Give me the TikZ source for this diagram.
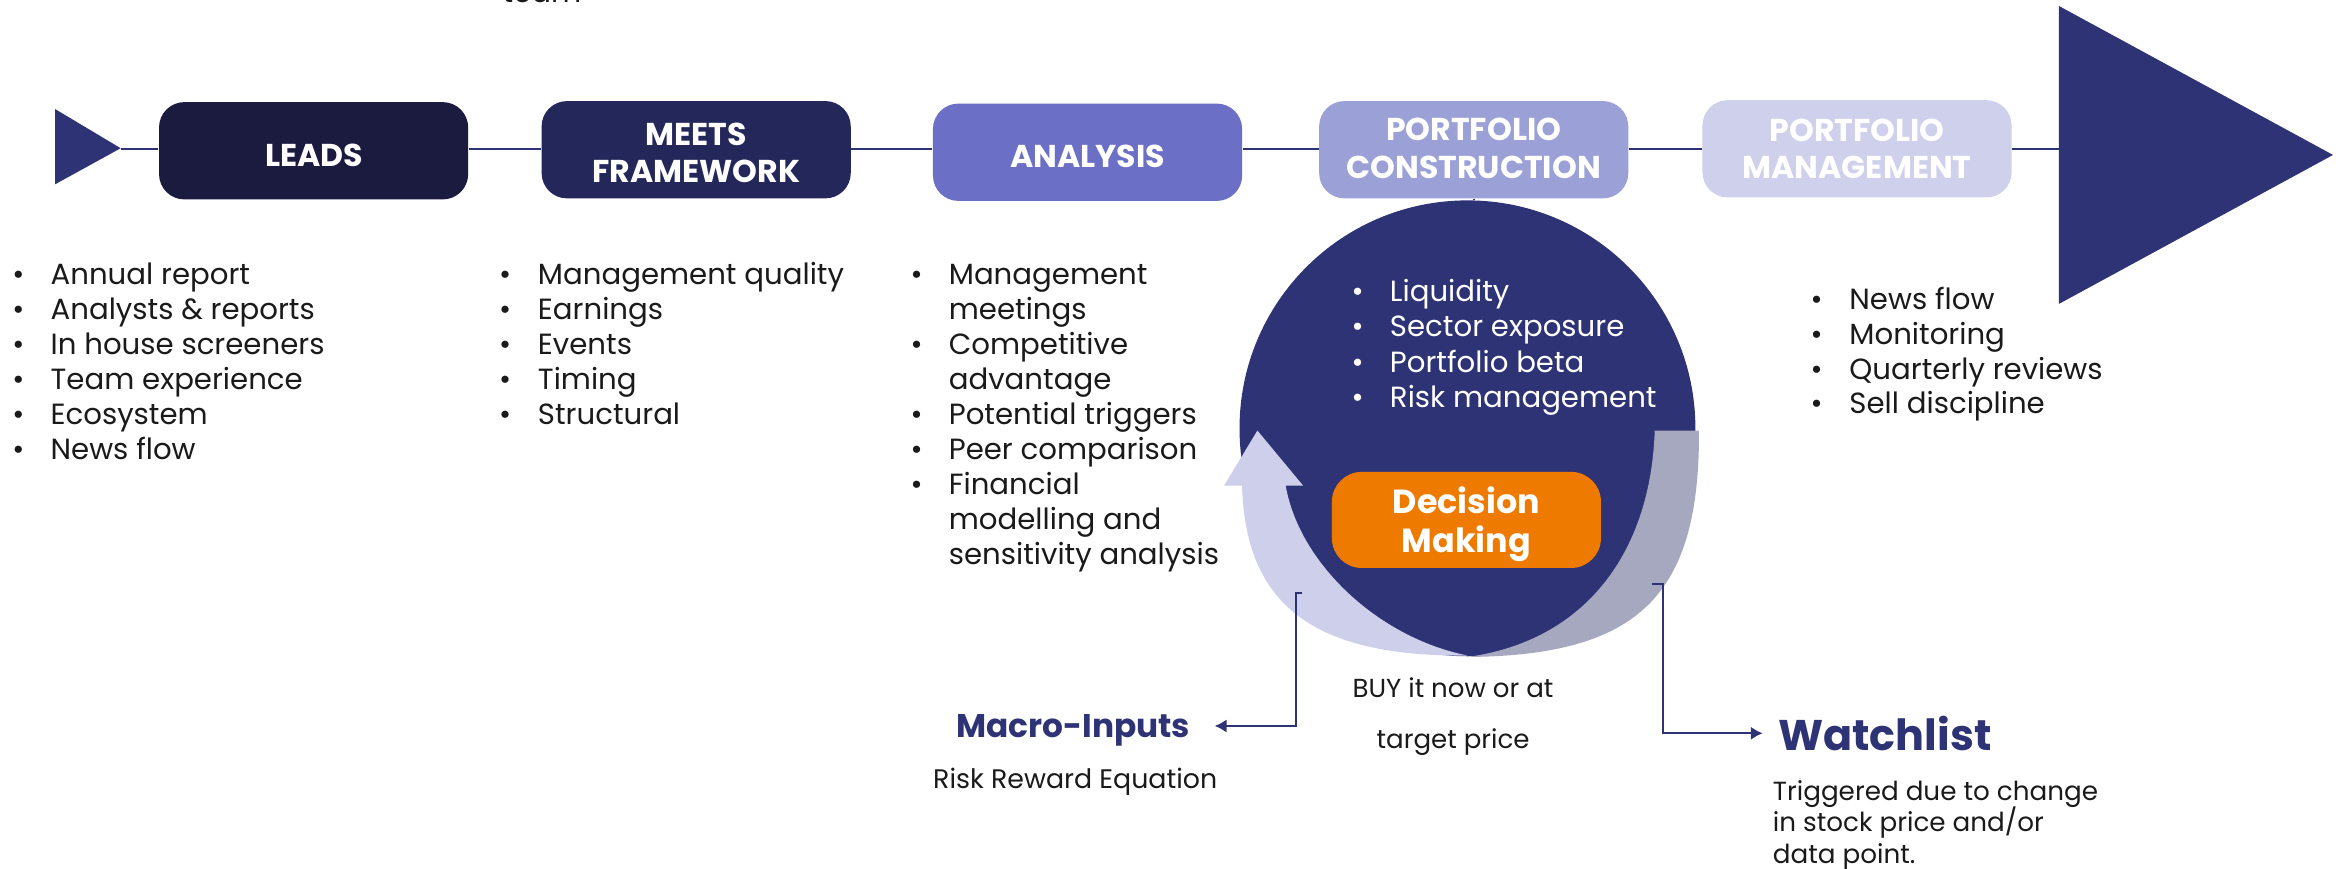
\documentclass[tikz,border=0pt]{standalone}
\usepackage{fontspec}
\setmainfont{Poppins}
\usetikzlibrary{arrows.meta}
\definecolor{navy}{HTML}{2E3375}
\definecolor{cA}{HTML}{1B1A3F}
\definecolor{cB}{HTML}{24275A}
\definecolor{cC}{HTML}{6B6FC5}
\definecolor{cD}{HTML}{9BA0D7}
\definecolor{cE}{HTML}{CED0EC}
\definecolor{lav}{HTML}{CDCFEB}
\definecolor{greyarc}{HTML}{A6A8C0}
\definecolor{orng}{HTML}{EE7B00}
\definecolor{ink}{HTML}{1A1A1A}
\tikzset{
  stage/.style={rounded corners=8.5pt, minimum width=103.75pt, minimum height=32.65pt, inner sep=0pt},
  stagetxt/.style={text=white, font=\bfseries\fontsize{10.6pt}{12.6pt}\selectfont, align=center, inner sep=0pt},
  bodytxt/.style={font=\fontsize{9.8pt}{11.75pt}\selectfont, inner sep=0pt, anchor=base west},
  mainline/.style={draw=navy, line width=0.6pt},
  conn/.style={draw=navy, line width=0.8pt, -{Latex[length=4pt,width=4.5pt]}},
}
% #1 prefix, #2 bullet x, #3 text x, #4 first baseline, #5 step, #6 colour, #7 items
\newcommand\mylist[7]{%
  \foreach \t/\b [count=\n from 0] in {#7} {
    \pgfmathsetmacro\yy{#4+\n*#5}
    \node[bodytxt, text=#6] (#1t\n) at (#3,\yy) {\t};
    \ifnum\b=1 \node[bodytxt, text=#6, anchor=base] (#1b\n) at (#2,\yy) {•};\fi
  }%
}
\begin{document}
\begin{tikzpicture}[x=0.5pt,y=-0.5pt]
\useasboundingbox (0,0) rectangle (1568,583);
\fill[white] (0,0) rectangle (1568,583);

% top clipped text
\node[bodytxt, text=ink] (team) at (337,1.5) {team};

% triangles
\fill[navy] (37,73.2) -- (81,99.5) -- (37,123.7) -- cycle;
\coordinate (ltip) at (81,100);
\fill[navy] (1382,4) -- (1566,104) -- (1382,204) -- cycle;
\coordinate (rbase) at (1382,100);

% stage boxes
\node[stage, fill=cA] (leads) at (210.5,101.2) {};
\node[stage, fill=cB] (meets) at (467.3,100.5) {};
\node[stage, fill=cC] (anal) at (730,102.2) {};
\node[stage, fill=cD] (pc) at (989.2,100.5) {};
\node[stage, fill=cE] (pm) at (1246.5,99.9) {};
\node[stagetxt] (leadsT) at (211,104) {LEADS};
\node[stagetxt] (meetsT) at (467.3,102.5) {MEETS\\FRAMEWORK};
\node[stagetxt] (analT) at (730,105) {ANALYSIS};
\node[stagetxt] (pcT) at (989.2,99.5) {PORTFOLIO\\CONSTRUCTION};
\node[stagetxt] (pmT) at (1246.5,100) {PORTFOLIO\\MANAGEMENT};

% main line
\draw[mainline] (ltip) -- (leads.west |- ltip);
\draw[mainline] (leads.east |- ltip) -- (meets.west |- ltip);
\draw[mainline] (meets.east |- ltip) -- (anal.west |- ltip);
\draw[mainline] (anal.east |- ltip) -- (pc.west |- ltip);
\draw[mainline] (pc.east |- ltip) -- (pm.west |- ltip);
\draw[mainline] (pm.east |- ltip) -- (rbase);

% lists
\mylist{la}{12.3}{33.6}{190.9}{23.48}{ink}{Annual report/1, Analysts \& reports/1, In house screeners/1, Team experience/1, Ecosystem/1, News flow/1}
\mylist{mf}{339}{360.7}{190.9}{23.48}{ink}{Management quality/1, Earnings/1, Events/1, Timing/1, Structural/1}
\mylist{an}{615.3}{636.5}{190.9}{23.46}{ink}{Management/1, meetings/0, Competitive/1, advantage/0, Potential triggers/1, Peer comparison/1, Financial/1, modelling and/0, sensitivity analysis/0}
\mylist{pm}{1219.4}{1241}{207.6}{23.4}{ink}{News flow/1, Monitoring/1, Quarterly reviews/1, Sell discipline/1}

% circle
\node[circle, fill=navy, minimum size=153pt, inner sep=0pt] (circ) at (985,287.5) {};
\draw[mainline] (pc.south) -- (pc.south |- circ.north);
\fill[lav] (985,440) .. controls (880,441) and (836,405) .. (833.7,326)
  -- (821.6,326) -- (844,289) -- (874.7,326) -- (863,326)
  .. controls (872,378) and (925,428) .. (985,440) -- cycle;
\fill[greyarc] (1110.7,289) -- (1140.4,289) .. controls (1141,400) and (1100,440) .. (985,441)
  .. controls (1065,430) and (1108,370) .. (1110.7,289) -- cycle;
\mylist{cl}{911.3}{932.6}{202.5}{23.7}{white}{Liquidity/1, Sector exposure/1, Portfolio beta/1, Risk management/1}
\node[fill=orng, rounded corners=10pt, minimum width=90.3pt, minimum height=32.25pt, inner sep=0pt] (dec) at (984.3,349) {};
\node[text=white, font=\bfseries\fontsize{11.2pt}{13pt}\selectfont, align=center, inner sep=0pt] (decT) at (984.3,352) {Decision\\Making};

% outputs
\node[font=\bfseries\fontsize{11pt}{13pt}\selectfont, text=navy, anchor=east, inner xsep=8pt, inner ysep=0pt, text depth=0pt] (macro) at (815.3,487.3) {Macro-Inputs};
\node[bodytxt, text=ink, font=\fontsize{9pt}{11pt}\selectfont] (rre) at (626,529) {Risk Reward Equation};
\node[bodytxt, text=ink, anchor=base, font=\fontsize{8.75pt}{11pt}\selectfont] (buy) at (975.3,468) {BUY it now or at};
\node[bodytxt, text=ink, anchor=base, font=\fontsize{8.75pt}{11pt}\selectfont] (tp) at (975.4,502.3) {target price};
\node[font=\bfseries\fontsize{14.4pt}{16pt}\selectfont, text=navy, anchor=west, inner xsep=5pt, inner ysep=0pt, text depth=0pt] (watch) at (1183.2,492.2) {Watchlist};
\node[bodytxt, text=ink, font=\fontsize{8.8pt}{10.6pt}\selectfont] (tr1) at (1189.6,537) {Triggered due to change};
\node[bodytxt, text=ink, font=\fontsize{8.8pt}{10.6pt}\selectfont] (tr2) at (1189.6,558.2) {in stock price and/or};
\node[bodytxt, text=ink, font=\fontsize{8.8pt}{10.6pt}\selectfont] (tr3) at (1189.6,579.5) {data point.};

% connectors
\coordinate (lc) at (874,398);
\coordinate (rc) at (1108.6,392);
\draw[conn] (lc) -- (870,398) |- (macro.east);
\draw[conn] (rc) -- (1116.3,392) |- (watch.west);
\end{tikzpicture}
\end{document}
